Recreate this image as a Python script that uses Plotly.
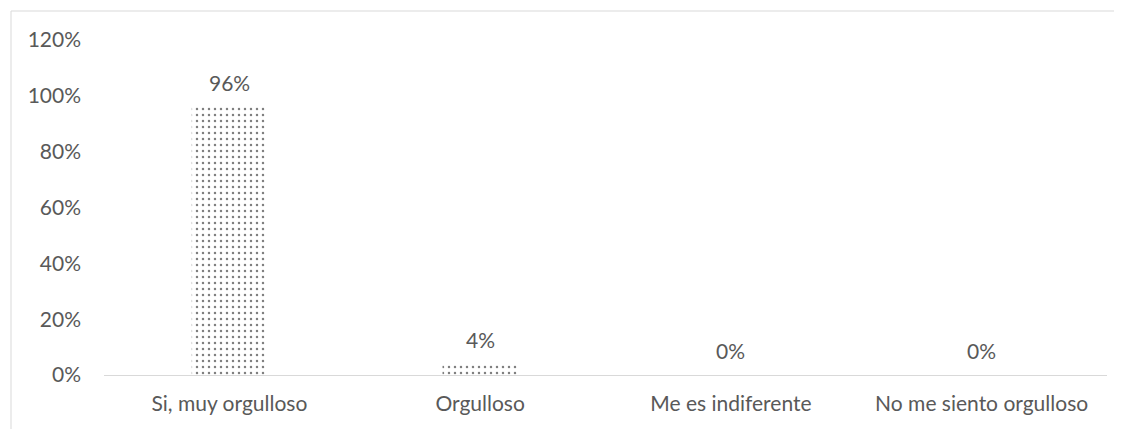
import plotly.graph_objects as go

categorias = ["Si, muy orgulloso", "Orgulloso", "Me es indiferente", "No me siento orgulloso"]
valores = [0.96, 0.04, 0.0, 0.0]
etiquetas = ["96%", "4%", "0%", "0%"]
ticks_y = [0, 0.2, 0.4, 0.6, 0.8, 1.0, 1.2]
ticks_y_txt = ["0%", "20%", "40%", "60%", "80%", "100%", "120%"]

# la página tiene un margen de 8 px en el body
OFF = 8
W, H = 1110, 421
L, T = 104 - OFF, 40 - OFF
R = W - (1107 - OFF)
B = H - (375 - OFF)
FONT = "Lato, Open Sans, sans-serif"
GRIS = "#595959"
FS = 21

fig = go.Figure()
fig.add_trace(go.Bar(
    x=categorias, y=valores,
    marker=dict(color="white", line=dict(width=0),
                pattern=dict(shape=".", fgcolor="black", bgcolor="white",
                             size=6, solidity=0.13)),
    width=0.3,
))

for c, v, t in zip(categorias, valores, etiquetas):
    fig.add_annotation(x=c, y=v, text=t, showarrow=False, yanchor="bottom",
                       yshift=10, font=dict(size=FS, color=GRIS, family=FONT))

# marco del gráfico (recortado en la imagen original)
pw, ph = W - L - R, H - T - B
px = lambda p: (p - OFF - L) / pw
py = lambda p: (H - B - (p - OFF)) / ph
for x0, y0, x1, y1 in [(11, 11, 1130, 11), (11, 11, 11, 440)]:
    fig.add_shape(type="line", xref="paper", yref="paper",
                  x0=px(x0), y0=py(y0), x1=px(x1), y1=py(y1),
                  line=dict(color="#d9d9d9", width=1))

fig.update_layout(
    width=W, height=H, margin=dict(l=L, r=R, t=T, b=B),
    paper_bgcolor="white", plot_bgcolor="white",
    showlegend=False, bargap=0.7,
    font=dict(family=FONT, size=FS, color=GRIS),
)
fig.update_xaxes(showgrid=False, showline=True, linecolor="#d9d9d9", linewidth=1,
                 ticks="", ticklabelstandoff=10, tickfont=dict(size=FS, color=GRIS))
fig.update_yaxes(range=[0, 1.2], tickvals=ticks_y, ticktext=ticks_y_txt,
                 showgrid=False, zeroline=False, showline=False, ticks="",
                 ticklabelstandoff=22, tickfont=dict(size=FS, color=GRIS))

fig.write_html("out.html")
